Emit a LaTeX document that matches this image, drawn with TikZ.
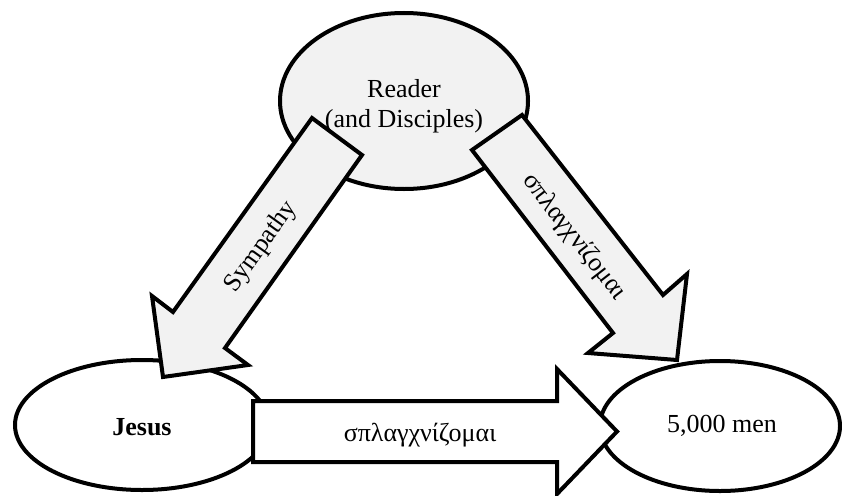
\documentclass[tikz,border=0pt]{standalone}
\usepackage{fontspec}
\setmainfont{Liberation Serif}
\usetikzlibrary{shapes.geometric}
\definecolor{paleGray}{HTML}{F2F2F2}
\begin{document}
\begin{tikzpicture}[x=1pt,y=-1pt,
  outline/.style={draw=black, line width=4pt},
  bubble/.style={outline, ellipse, inner sep=0pt},
  blockarrow/.style={outline, line join=miter, miter limit=10},
  label/.style={font=\fontsize{26}{30}\selectfont, inner sep=0pt, align=center}]
\useasboundingbox (0,0) rectangle (842,495);

% the three parties
\node[bubble, fill=paleGray, minimum width=248pt, minimum height=176pt] (reader) at (404,101) {};
\node[bubble, fill=white, minimum width=254pt, minimum height=130pt] (jesus) at (142,425) {};
\node[bubble, fill=white, minimum width=240pt, minimum height=130pt] (men) at (720,426) {};

% block arrows between them
\draw[blockarrow, fill=paleGray]
  (312,118) -- (362,155) -- (225,348) -- (248,365) -- (163,377)
  -- (152,296) -- (173,312) -- cycle;
\draw[blockarrow, fill=paleGray]
  (522,115) -- (472,150) -- (613,333) -- (588,353) -- (677,360)
  -- (687,274) -- (663,295) -- cycle;
\draw[blockarrow, fill=white]
  (253,401) -- (557,401) -- (557,369) -- (617,431.5) -- (557,494)
  -- (557,462) -- (253,462) -- cycle;

% labels
\node[label] (readertext) at (404,106) {Reader\\(and Disciples)};
\node[label, font=\fontsize{26}{30}\selectfont\bfseries] (jesustext) at (142,427) {Jesus};
\node[label] (mentext) at (722,426) {5,000 men};
\node[label, rotate=54.4] (sympathy) at (261,247) {Sympathy};
\node[label, rotate=-52.2] (greekdiag) at (574,237) {σπλαγχνίζομαι};
\node[label] (greekflat) at (420,435) {σπλαγχνίζομαι};
\end{tikzpicture}
\end{document}
